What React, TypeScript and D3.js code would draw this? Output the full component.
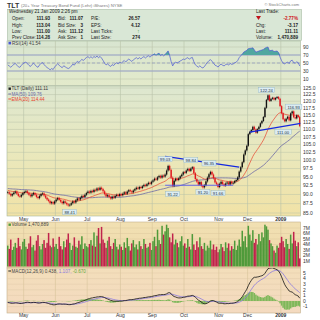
import React from "react";
import * as d3 from "d3";

// ---------- DATA ----------
const priorCloses = [91.2, 90.8, 91.5, 91.9, 91.4, 90.9, 91.3, 91.8, 92.3, 92.7, 93.1, 92.6, 92.0, 92.8, 93.4, 93.0, 92.5, 93.2, 93.6, 92.7, 92.1, 92.5, 91.9, 91.4, 91.7, 91.0, 90.2, 89.9, 90.5, 91.1, 90.7, 91.3, 91.8, 91.2, 90.6, 90.9, 91.4, 90.8, 91.1, 90.6];
const aprCloses = [90.6, 90.2, 89.7, 90.1, 90.5, 90.8, 90.2, 89.6, 89.4, 89.9, 90.4];
const mayCloses = [90.7, 90.9, 90.4, 89.9, 89.5, 90.0, 90.4, 89.9, 89.3, 89.0, 89.6, 90.1, 90.3, 89.7, 89.1, 88.6, 88.2, 87.6, 87.9, 87.5, 88.1];
const junCloses = [88.6, 89.0, 88.5, 88.0, 87.6, 88.1, 87.7, 87.3, 87.0, 87.2, 87.6, 88.1, 87.8, 88.4, 88.9, 88.6, 89.1, 89.6, 89.3, 89.9, 90.4];
const julCloses = [90.8, 90.5, 91.0, 90.7, 91.3, 91.1, 91.7, 91.3, 91.9, 91.5, 90.9, 90.1, 89.5, 89.8, 89.3, 88.9, 89.4, 89.1, 89.6, 89.9, 89.6, 90.1];
const augCloses = [89.8, 90.2, 90.6, 90.2, 90.8, 91.2, 90.9, 90.6, 91.1, 91.5, 91.9, 91.6, 92.1, 91.8, 92.3, 92.7, 92.4, 92.9, 93.3, 93.0, 93.6];
const sepCloses = [94.0, 94.5, 94.2, 94.9, 95.3, 94.8, 95.4, 95.1, 95.7, 96.9, 98.3, 97.1, 94.8, 92.4, 93.9, 94.5, 94.1, 94.6, 95.2, 95.7, 96.4];
const octCloses = [96.2, 96.9, 97.4, 96.8, 97.5, 97.9, 96.1, 94.4, 93.6, 92.8, 93.5, 92.4, 92.0, 92.6, 93.7, 94.8, 95.8, 96.5, 95.7, 94.6, 93.4, 92.9, 92.1];
const novCloses = [93.0, 93.6, 92.9, 92.5, 93.1, 93.4, 92.8, 93.6, 93.1, 93.3, 93.8, 94.1, 94.9, 96.6, 97.9, 99.4, 101.8, 103.1, 104.6];
const decCloses = [108.4, 109.2, 109.8, 110.9, 110.0, 108.9, 110.1, 110.9, 112.1, 112.9, 114.3, 117.6, 120.5, 122.2, 120.1, 120.9, 121.3, 120.6, 121.2, 121.6, 120.9, 118.2];
const janCloses = [115.6, 113.5, 112.8, 113.7, 114.4, 113.1, 115.6, 116.3, 114.2, 113.8, 114.9, 114.28, 111.11];

// volume, millions of shares
const aprVol = [3.8, 3.2, 4.9, 3.0, 3.6, 4.3, 3.4, 5.2, 3.7, 3.1, 4.5];
const mayVol = [5.0, 3.6, 3.2, 4.2, 5.5, 3.5, 3.9, 2.9, 4.7, 5.7, 3.7, 3.1, 4.1, 4.8, 3.4, 4.3, 6.1, 3.8, 3.5, 5.1, 3.6];
const junVol = [4.1, 3.2, 5.4, 3.7, 3.1, 4.6, 3.5, 4.9, 6.0, 4.3, 3.0, 3.8, 5.3, 3.6, 3.4, 4.7, 4.0, 5.5, 3.2, 4.2, 3.7];
const julVol = [3.5, 4.1, 4.8, 3.8, 6.2, 3.6, 5.6, 7.0, 4.2, 7.2, 4.9, 4.3, 3.4, 4.7, 5.4, 3.7, 3.2, 4.3, 5.0, 3.6, 3.1, 4.0];
const augVol = [3.6, 3.0, 4.4, 3.4, 5.2, 3.7, 2.9, 4.2, 4.8, 3.5, 4.0, 3.1, 4.6, 3.7, 3.2, 5.0, 4.1, 3.4, 3.6, 4.3, 3.0];
const sepVol = [4.6, 5.4, 3.7, 6.7, 4.8, 4.1, 7.4, 5.8, 6.4, 7.6, 7.0, 5.3, 4.4, 6.0, 4.0, 4.9, 4.3, 3.5, 4.6, 5.5, 3.8];
const octVol = [4.2, 3.4, 5.0, 3.6, 3.1, 5.9, 4.0, 3.0, 4.6, 3.5, 5.3, 3.7, 3.2, 4.3, 2.9, 3.8, 3.4, 4.7, 3.1, 4.0, 3.0, 3.6, 2.6];
const novVol = [3.1, 4.1, 3.5, 2.8, 4.4, 3.4, 4.2, 2.9, 3.7, 3.2, 4.7, 3.0, 3.8, 4.9, 3.6, 6.5, 4.6, 5.5, 3.5];
const decVol = [7.4, 5.8, 4.7, 6.6, 4.3, 5.0, 4.0, 5.9, 4.6, 6.2, 5.3, 7.6, 7.3, 6.7, 4.8, 4.2, 3.7, 2.9, 2.5, 3.8, 3.4, 4.3];
const janVol = [5.4, 4.6, 3.5, 5.0, 4.1, 3.2, 5.8, 4.2, 6.3, 4.7, 3.7, 4.4, 1.47];

const closes = [...aprCloses, ...mayCloses, ...junCloses, ...julCloses, ...augCloses, ...sepCloses, ...octCloses, ...novCloses, ...decCloses, ...janCloses];
const volumes = [...aprVol, ...mayVol, ...junVol, ...julVol, ...augVol, ...sepVol, ...octVol, ...novVol, ...decVol, ...janVol];

const holidays = ["2008-05-26", "2008-07-04", "2008-09-01", "2008-11-27", "2008-12-25", "2009-01-01", "2009-01-19"];
const monthShort = ["2009", "Feb", "Mar", "Apr", "May", "Jun", "Jul", "Aug", "Sep", "Oct", "Nov", "Dec"];

const priceTicks = [85, 87.5, 90, 92.5, 95, 97.5, 100, 102.5, 105, 107.5, 110, 112.5, 115, 117.5, 120, 122.5, 125];
const rsiTicks = [10, 30, 50, 70, 90];
const volTicks = [1, 2, 3, 4, 5, 6, 7];
const macdTicks = [-1, 0, 1, 2, 3, 4, 5];

// price annotations (date index, price level of label, text)
const annoIdx = [41, 109, 104, 121, 129, 133, 139, 171, 182, 189];
const annoPrice = [85.2, 90.1, 100.3, 100.0, 90.6, 99.0, 90.3, 124.2, 109.1, 117.9];
const annoText = ["88.41", "91.22", "99.03", "98.84", "91.20", "96.35", "91.66", "122.24", "111.00", "116.93"];

// trend lines: [index, price] pairs
const trendLines = [
  { a: [104, 101.2], b: [153, 97.9], color: "#1428e0", w: 1.2 },
  { a: [104, 92.6], b: [149, 92.6], color: "#5a5af0", w: 0.9 },
  { a: [160, 109.1], b: [193.6, 112.1], color: "#1428e0", w: 1.2 },
];

// ---------- HELPERS ----------
function buildDates(): Date[] {
  const out: Date[] = [];
  const d = new Date(2008, 3, 16);
  const end = new Date(2009, 0, 21);
  const fmt = d3.timeFormat("%Y-%m-%d");
  while (d <= end) {
    const dow = d.getDay();
    if (dow !== 0 && dow !== 6 && !holidays.includes(fmt(d))) out.push(new Date(d));
    d.setDate(d.getDate() + 1);
  }
  return out;
}
function ema(arr: number[], n: number) {
  const k = 2 / (n + 1);
  let e = arr[0];
  return arr.map((v, i) => (i === 0 ? e : (e = v * k + e * (1 - k))));
}
function sma(arr: number[], n: number) {
  return arr.map((_, i) => {
    const s = arr.slice(Math.max(0, i - n + 1), i + 1);
    return d3.mean(s) as number;
  });
}
function rsi(arr: number[], n: number) {
  const out: number[] = arr.map(() => NaN);
  let g = 0, l = 0;
  for (let i = 1; i <= n; i++) {
    const ch = arr[i] - arr[i - 1];
    if (ch > 0) g += ch; else l -= ch;
  }
  g /= n; l /= n;
  out[n] = 100 - 100 / (1 + g / l);
  for (let i = n + 1; i < arr.length; i++) {
    const ch = arr[i] - arr[i - 1];
    g = (g * (n - 1) + Math.max(ch, 0)) / n;
    l = (l * (n - 1) + Math.max(-ch, 0)) / n;
    out[i] = 100 - 100 / (1 + g / l);
  }
  return out;
}

const FONT = "Liberation Sans, Arial, sans-serif";

export default function App() {
  const dates = buildDates();
  const N = Math.min(dates.length, closes.length);
  const P = priorCloses.length;
  const all = [...priorCloses, ...closes.slice(0, N)];
  const ema20 = ema(all, 20).slice(P);
  const ma50 = sma(all, 50).slice(P);
  const rsi14 = rsi(all, 14).slice(P);
  const e12 = ema(all, 12), e26 = ema(all, 26);
  const macdAll = e12.map((v, i) => v - e26[i]);
  const sigAll = ema(macdAll, 9);
  const macd = macdAll.slice(P);
  const sig = sigAll.slice(P);
  const hist = macd.map((v, i) => v - sig[i]);

  const plotL = 7, plotR = 300.5;
  const x = d3.scaleLinear().domain([-0.5, N - 0.5]).range([plotL, plotR]);
  const step = (plotR - plotL) / N;

  const priceTop = 86, priceBot = 216;
  const rsiTop = 41, rsiBot = 85.5;
  const volTop = 222, volBot = 268;
  const macdTop = 268, macdBot = 313;

  const yP = d3.scaleLog().domain([85, 125]).range([213, 88]);
  const yR = d3.scaleLinear().domain([0, 100]).range([83, 43]);
  const yV = d3.scaleLinear().domain([0, 8]).range([266.5, 222.5]);
  const yM = d3.scaleLinear().domain([-1, 5]).range([306.6, 273]);

  const idx = d3.range(N);
  const monthStarts = idx.filter((i) => i > 0 && dates[i].getMonth() !== dates[i - 1].getMonth());

  const line = (ys: number[], ysc: (v: number) => number) =>
    d3.line<number>().defined((i) => !isNaN(ys[i])).x((i) => x(i)).y((i) => ysc(ys[i]))(idx) || "";

  const rsiArea = d3.area<number>()
    .defined((i) => !isNaN(rsi14[i]))
    .x((i) => x(i)).y0(yR(70)).y1((i) => yR(Math.max(70, rsi14[i])))(idx) || "";

  const prevClose = (i: number) => (i === 0 ? priorCloses[P - 1] : closes[i - 1]);

  const grid = "#b9c3a9";

  const vGrid = (top: number, bot: number, col: string) =>
    monthStarts.map((i) => (
      <line key={"v" + top + "-" + i} x1={x(i) - step / 2} x2={x(i) - step / 2} y1={top} y2={bot} stroke={col} strokeWidth={0.6} />
    ));

  const rightLabel = (y: number, t: string, k: string, bold = false) => (
    <text key={k} x={303} y={y + 1.8} fontSize={5} fill="#333" fontFamily={FONT} fontWeight={bold ? "bold" : "normal"}>{t}</text>
  );

  const monthLabelRow = (y: number, k: string) =>
    monthStarts.map((i) => {
      const m = dates[i].getMonth();
      return (
        <text key={k + i} x={x(i) - step / 2} y={y} fontSize={5} textAnchor="middle" fill="#333" fontFamily={FONT} fontWeight={m === 0 ? "bold" : "normal"}>
          {monthShort[m]}
        </text>
      );
    });

  const infoRows = [13, 20, 26.5, 33, 39.3];

  return (
    <svg width={320} height={320} style={{ position: "fixed", left: 0, top: 0 }} fontFamily={FONT}>
      <defs>
        <linearGradient id="gRsi" x1="0" y1="0" x2="0" y2="1">
          <stop offset="0" stopColor="#d8e5d0" />
          <stop offset="1" stopColor="#e3eacb" />
        </linearGradient>
        <linearGradient id="gPrice" x1="0" y1="0" x2="0" y2="1">
          <stop offset="0" stopColor="#dde7d0" />
          <stop offset="0.5" stopColor="#e9e8bd" />
          <stop offset="1" stopColor="#f1e2a6" />
        </linearGradient>
        <linearGradient id="gVol" x1="0" y1="0" x2="0" y2="1">
          <stop offset="0" stopColor="#f1e0b2" />
          <stop offset="1" stopColor="#f0d9ac" />
        </linearGradient>
        <linearGradient id="gMacd" x1="0" y1="0" x2="0" y2="1">
          <stop offset="0" stopColor="#f3deba" />
          <stop offset="1" stopColor="#f4dac0" />
        </linearGradient>
        <clipPath id="cPrice"><rect x={plotL} y={priceTop} width={plotR - plotL} height={priceBot - priceTop} /></clipPath>
        <clipPath id="cRsi"><rect x={plotL} y={rsiTop} width={plotR - plotL} height={rsiBot - rsiTop} /></clipPath>
        <clipPath id="cMacd"><rect x={plotL} y={macdTop} width={plotR - plotL} height={macdBot - macdTop} /></clipPath>
      </defs>
      <rect x={0} y={0} width={320} height={320} fill="#ffffff" />

      {/* title */}
      <text x={7} y={7.5} fontSize={7} fontWeight="bold" fill="#333">TLT</text>
      <text x={21} y={7.3} fontSize={4.3} fill="#777">(20+ Year Treasury Bond Fund (Lehr) iShares) NYSE</text>
      <text x={299} y={5.5} fontSize={4} fill="#777" textAnchor="end">© StockCharts.com</text>

      {/* info box */}
      <rect x={7.5} y={9.5} width={294} height={31} fill="#d9e7d6" stroke="#a9bda4" strokeWidth={0.6} />
      <g fontSize={4.6} fill="#222">
        <text x={9} y={infoRows[0]}>Wednesday 21 Jan 2009 2:26 pm</text>
        {["Open:", "High:", "Low:", "Prev Close:"].map((t, k) => <text key={"l1" + k} x={12} y={infoRows[k + 1]}>{t}</text>)}
        {["111.93", "113.04", "111.00", "114.28"].map((t, k) => <text key={"v1" + k} x={50} y={infoRows[k + 1]} textAnchor="end" fontWeight="bold">{t}</text>)}
        {["Bid:", "Bid Size:", "Ask:", "Ask Size:"].map((t, k) => <text key={"l2" + k} x={58} y={infoRows[k + 1]}>{t}</text>)}
        {["111.07", "3", "111.12", "1"].map((t, k) => <text key={"v2" + k} x={83} y={infoRows[k + 1]} textAnchor="end" fontWeight="bold">{t}</text>)}
        {["P/E:", "EPS:", "Last Ticks:", "Last Size:"].map((t, k) => <text key={"l3" + k} x={91} y={infoRows[k + 1]}>{t}</text>)}
        {["26.57", "4.12", "", "274"].map((t, k) => <text key={"v3" + k} x={140} y={infoRows[k + 1]} textAnchor="end" fontWeight="bold">{t}</text>)}
        <text x={138.5} y={infoRows[3]} fill="#1a8a1a" fontWeight="bold" textAnchor="middle">↑</text>
        <text x={256} y={infoRows[0]}>Last Trade:</text>
        <path d={`M256,${infoRows[1] - 4} L261,${infoRows[1] - 4} L258.5,${infoRows[1]} Z`} fill="#c0141c" />
        <text x={298} y={infoRows[1]} textAnchor="end" fill="#d0141c" fontWeight="bold">-2.77%</text>
        {["Chg:", "Last:", "Volume:"].map((t, k) => <text key={"l4" + k} x={256} y={infoRows[k + 2]}>{t}</text>)}
        {["-3.17", "111.11", "1,470,889"].map((t, k) => <text key={"v4" + k} x={298} y={infoRows[k + 2]} textAnchor="end" fontWeight="bold">{t}</text>)}
      </g>

      {/* RSI panel */}
      <rect x={plotL} y={rsiTop} width={plotR - plotL} height={rsiBot - rsiTop} fill="url(#gRsi)" stroke="#a9b79c" strokeWidth={0.6} />
      {rsiTicks.map((t) => <line key={"rg" + t} x1={plotL} x2={plotR} y1={yR(t)} y2={yR(t)} stroke={grid} strokeWidth={0.5} />)}
      {vGrid(rsiTop, rsiBot, grid)}
      <line x1={plotL} x2={plotR} y1={yR(70)} y2={yR(70)} stroke="#9aa4cc" strokeWidth={1.2} />
      <line x1={plotL} x2={plotR} y1={yR(30)} y2={yR(30)} stroke="#9aa4cc" strokeWidth={1.2} />
      <line x1={plotL} x2={plotR} y1={yR(50)} y2={yR(50)} stroke="#7f8ac0" strokeWidth={0.6} strokeDasharray="3,2" />
      <g clipPath="url(#cRsi)">
        <path d={rsiArea} fill="#4fa7a0" stroke="none" />
        <path d={line(rsi14, yR)} fill="none" stroke="#4a58d4" strokeWidth={0.7} />
      </g>
      <rect x={8.5} y={41.8} width={2.6} height={2.6} fill="#4a58d4" />
      <text x={12} y={44.6} fontSize={4.6} fill="#444">RSI(14) 41.54</text>
      {rsiTicks.map((t) => rightLabel(yR(t), String(t), "rl" + t))}

      {/* Price panel */}
      <rect x={plotL} y={priceTop} width={plotR - plotL} height={priceBot - priceTop} fill="url(#gPrice)" stroke="#a9b79c" strokeWidth={0.6} />
      {priceTicks.map((t) => <line key={"pg" + t} x1={plotL} x2={plotR} y1={yP(t)} y2={yP(t)} stroke={grid} strokeWidth={0.5} />)}
      {vGrid(priceTop, priceBot, grid)}
      <g clipPath="url(#cPrice)">
        <path d={line(ma50, yP)} fill="none" stroke="#6c6aa6" strokeWidth={0.8} />
        <path d={line(ema20, yP)} fill="none" stroke="#e8422c" strokeWidth={0.7} />
        {idx.map((i) => {
          const o = prevClose(i), c = closes[i];
          const up = c >= o;
          const hi = Math.max(o, c) + 0.35, lo = Math.min(o, c) - 0.35;
          const col = up ? "#111" : "#e0141c";
          const yTop = yP(Math.max(o, c)), yBot = yP(Math.min(o, c));
          return (
            <g key={"c" + i}>
              <line x1={x(i)} x2={x(i)} y1={yP(hi)} y2={yP(lo)} stroke={col} strokeWidth={0.5} />
              <rect x={x(i) - step * 0.45} y={yTop} width={step * 0.9} height={Math.max(0.8, yBot - yTop)} fill={col} />
            </g>
          );
        })}
        {trendLines.map((t, k) => (
          <line key={"t" + k} x1={x(t.a[0])} y1={yP(t.a[1])} x2={x(t.b[0])} y2={yP(t.b[1])} stroke={t.color} strokeWidth={t.w} />
        ))}
      </g>
      {annoIdx.map((i, k) => {
        const w = annoText[k].length * 2.4 + 2;
        return (
          <g key={"a" + k}>
            <rect x={x(i) - w / 2} y={yP(annoPrice[k]) - 2.8} width={w} height={5.2} fill="#dcecf2" stroke="#8fb3c4" strokeWidth={0.4} />
            <text x={x(i)} y={yP(annoPrice[k]) + 1.6} fontSize={4.2} textAnchor="middle" fill="#234">{annoText[k]}</text>
          </g>
        );
      })}
      <rect x={8.5} y={87.5} width={2.4} height={2.4} fill="#222" />
      <text x={11.5} y={90.2} fontSize={4.6} fill="#333">TLT (Daily) 111.11</text>
      <line x1={8.3} x2={11} y1={94} y2={94} stroke="#6c6aa6" strokeWidth={0.9} />
      <text x={11.5} y={95.6} fontSize={4.6} fill="#6c6aa6">MA(50) 109.76</text>
      <line x1={8.3} x2={11} y1={99} y2={99} stroke="#e8422c" strokeWidth={0.9} />
      <text x={11.5} y={100.6} fontSize={4.6} fill="#e8422c">EMA(20) 114.44</text>
      {priceTicks.map((t) => rightLabel(yP(t), t.toFixed(1), "pl" + t))}
      {monthLabelRow(221, "m1")}

      {/* Volume panel */}
      <rect x={plotL} y={volTop} width={plotR - plotL} height={volBot - volTop} fill="url(#gVol)" stroke="#c2b08a" strokeWidth={0.6} />
      {volTicks.map((t) => <line key={"vg" + t} x1={plotL} x2={plotR} y1={yV(t)} y2={yV(t)} stroke="#dcc89c" strokeWidth={0.5} />)}
      {vGrid(volTop, volBot, "#d6c49a")}
      {idx.map((i) => {
        const up = closes[i] >= prevClose(i);
        return (
          <rect key={"vb" + i} x={x(i) - step * 0.5} y={yV(volumes[i])} width={step} height={yV(0) - yV(volumes[i])} fill={up ? "#4f9a3a" : "#c0234c"} />
        );
      })}
      <rect x={8.5} y={223.5} width={2.4} height={2.4} fill="#4f9a3a" />
      <text x={11.5} y={226.2} fontSize={4.6} fill="#444">Volume 1,470,889</text>
      {volTicks.map((t) => rightLabel(yV(t), t + "M", "vl" + t))}

      {/* MACD panel */}
      <rect x={plotL} y={macdTop} width={plotR - plotL} height={macdBot - macdTop} fill="url(#gMacd)" stroke="#c2b08a" strokeWidth={0.6} />
      {macdTicks.map((t) => <line key={"mg" + t} x1={plotL} x2={plotR} y1={yM(t)} y2={yM(t)} stroke="#e0cba8" strokeWidth={0.5} />)}
      {vGrid(macdTop, macdBot, "#d6c49a")}
      <g clipPath="url(#cMacd)">
        {idx.map((i) => (
          <rect key={"h" + i} x={x(i) - step / 2} y={Math.min(yM(0), yM(hist[i]))} width={step} height={Math.abs(yM(hist[i]) - yM(0))} fill="#7fb85a" />
        ))}
        <path d={line(sig, yM)} fill="none" stroke="#8a78e0" strokeWidth={0.8} />
        <path d={line(macd, yM)} fill="none" stroke="#111" strokeWidth={0.8} />
      </g>
      <line x1={8.3} x2={11} y1={271} y2={271} stroke="#111" strokeWidth={0.9} />
      <text x={11.5} y={272.6} fontSize={4.6} fill="#444">
        MACD(12,26,9) 0.438, <tspan fill="#8a78e0">1.107,</tspan> <tspan fill="#5fa83a">-0.670</tspan>
      </text>
      {macdTicks.map((t) => rightLabel(yM(t), String(t), "ml" + t))}
      {monthLabelRow(317, "m2")}
    </svg>
  );
}
